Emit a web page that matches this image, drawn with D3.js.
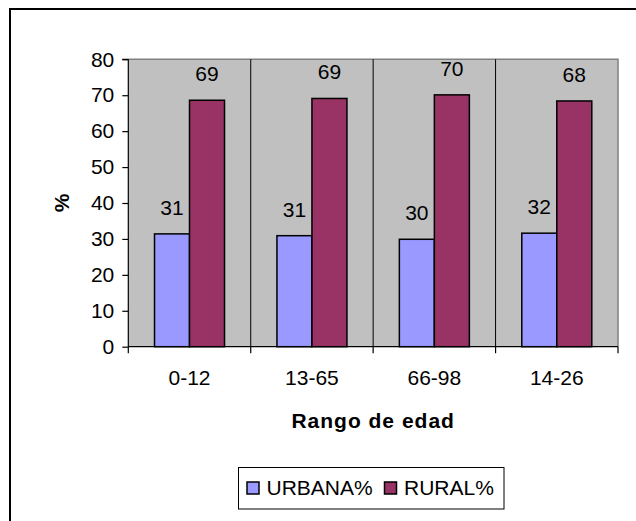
<!DOCTYPE html>
<html>
<head>
<meta charset="utf-8">
<script src="https://cdn.jsdelivr.net/npm/d3@7"></script>
<style>
  html, body { margin: 0; padding: 0; background: #fff; }
  svg { display: block; font-family: "Liberation Sans", Arial, sans-serif; }
</style>
</head>
<body>
<script>
const categories = ["0-12", "13-65", "66-98", "14-26"];
const seriesNames = ["URBANA%", "RURAL%"];
const urbana = [31.4, 30.9, 29.9, 31.6];
const rural = [68.6, 69.1, 70.1, 68.4];
const yTicks = [0, 10, 20, 30, 40, 50, 60, 70, 80];
const colors = ["#9999FF", "#993366"];

const W = 636, H = 521;
const plot = { left: 128.3, right: 618, top: 59.3, bottom: 346.7 };

const svg = d3.select("body").append("svg").attr("width", W).attr("height", H);

// outer chart border (only top/left visible)
svg.append("rect").attr("x", 10).attr("y", 9).attr("width", 700).attr("height", 600)
  .attr("fill", "none").attr("stroke", "#000").attr("stroke-width", 2);

const x = d3.scaleBand().domain(categories).range([plot.left, plot.right]).padding(0);
const xs = d3.scaleBand().domain(seriesNames).range([-35, 35]).padding(0);
const y = d3.scaleLinear().domain([0, 80]).range([plot.bottom, plot.top]);

// plot background
svg.append("rect").attr("x", plot.left).attr("y", plot.top)
  .attr("width", plot.right - plot.left).attr("height", plot.bottom - plot.top)
  .attr("fill", "#C0C0C0");
// gray frame top and right
svg.append("path")
  .attr("d", `M${plot.left},${plot.top}H${plot.right}V${plot.bottom}`)
  .attr("fill", "none").attr("stroke", "#808080").attr("stroke-width", 1.5);

// category dividers
svg.append("g").selectAll("line").data(categories.slice(1)).join("line")
  .attr("x1", d => x(d)).attr("x2", d => x(d))
  .attr("y1", plot.top).attr("y2", plot.bottom)
  .attr("stroke", "#000").attr("stroke-width", 1);

const data = categories.map((c, i) => ({ cat: c, values: [
  { s: seriesNames[0], v: urbana[i], c: colors[0] },
  { s: seriesNames[1], v: rural[i], c: colors[1] }
]}));

const groups = svg.append("g").selectAll("g").data(data).join("g")
  .attr("transform", d => `translate(${x(d.cat) + x.bandwidth() / 2},0)`);

groups.selectAll("rect").data(d => d.values).join("rect")
  .attr("x", d => xs(d.s)).attr("width", xs.bandwidth())
  .attr("y", d => y(d.v)).attr("height", d => y(0) - y(d.v))
  .attr("fill", d => d.c).attr("stroke", "#000").attr("stroke-width", 1.5);

groups.selectAll("text").data(d => d.values).join("text")
  .attr("x", d => xs(d.s) + xs.bandwidth() / 2)
  .attr("y", d => y(d.v) - 19)
  .attr("text-anchor", "middle").attr("font-size", 21).attr("fill", "#000")
  .text(d => d3.format(".0f")(d.v));

// y axis
const yAxis = d3.axisLeft(y).tickValues(yTicks).tickSize(6).tickPadding(8);
const gy = svg.append("g").attr("transform", `translate(${plot.left},0)`).call(yAxis);
gy.select(".domain").attr("stroke", "#000").attr("stroke-width", 1.2).attr("d", `M0,${plot.top}V${plot.bottom}M-6,${plot.top}H0`);
gy.selectAll(".tick line").attr("stroke", "#000").attr("stroke-width", 1.2);
gy.selectAll(".tick text").attr("font-size", 21).attr("fill", "#000")
  .attr("font-family", "'Liberation Sans', Arial, sans-serif");

// x axis
const gx = svg.append("g").attr("transform", `translate(0,${plot.bottom})`);
gx.append("line").attr("x1", plot.left).attr("x2", plot.right).attr("y1", 0).attr("y2", 0)
  .attr("stroke", "#000").attr("stroke-width", 1.2);
const bounds = categories.map(c => x(c)).concat([x(categories[categories.length - 1]) + x.bandwidth()]);
gx.selectAll("line.tk").data(bounds).join("line").attr("class", "tk")
  .attr("x1", d => d).attr("x2", d => d).attr("y1", 0).attr("y2", 6.5)
  .attr("stroke", "#000").attr("stroke-width", 1.2);
gx.selectAll("text").data(categories).join("text")
  .attr("x", d => x(d) + x.bandwidth() / 2).attr("y", 38.5)
  .attr("text-anchor", "middle").attr("font-size", 21).attr("fill", "#000")
  .text(d => d);

// axis titles
svg.append("text").attr("x", (plot.left + plot.right) / 2).attr("y", 428)
  .attr("text-anchor", "middle").attr("font-size", 21).attr("font-weight", "bold")
  .attr("letter-spacing", 1).text("Rango de edad");
svg.append("text").attr("transform", `translate(69,${(plot.top + plot.bottom) / 2}) rotate(-90)`)
  .attr("text-anchor", "middle").attr("font-size", 21).attr("font-weight", "bold").text("%");

// legend
const lg = svg.append("g");
lg.append("rect").attr("x", 238.5).attr("y", 467.5).attr("width", 265.5).attr("height", 41.5)
  .attr("fill", "#fff").attr("stroke", "#000").attr("stroke-width", 1);
const legX = [247, 384.5];
const legTX = [266.5, 404];
seriesNames.forEach((s, i) => {
  lg.append("rect").attr("x", legX[i]).attr("y", 482).attr("width", 12).attr("height", 12)
    .attr("fill", colors[i]).attr("stroke", "#000").attr("stroke-width", 1.5);
  lg.append("text").attr("x", legTX[i]).attr("y", 494.5).attr("font-size", 21)
    .attr("fill", "#000").text(s);
});
</script>
</body>
</html>
